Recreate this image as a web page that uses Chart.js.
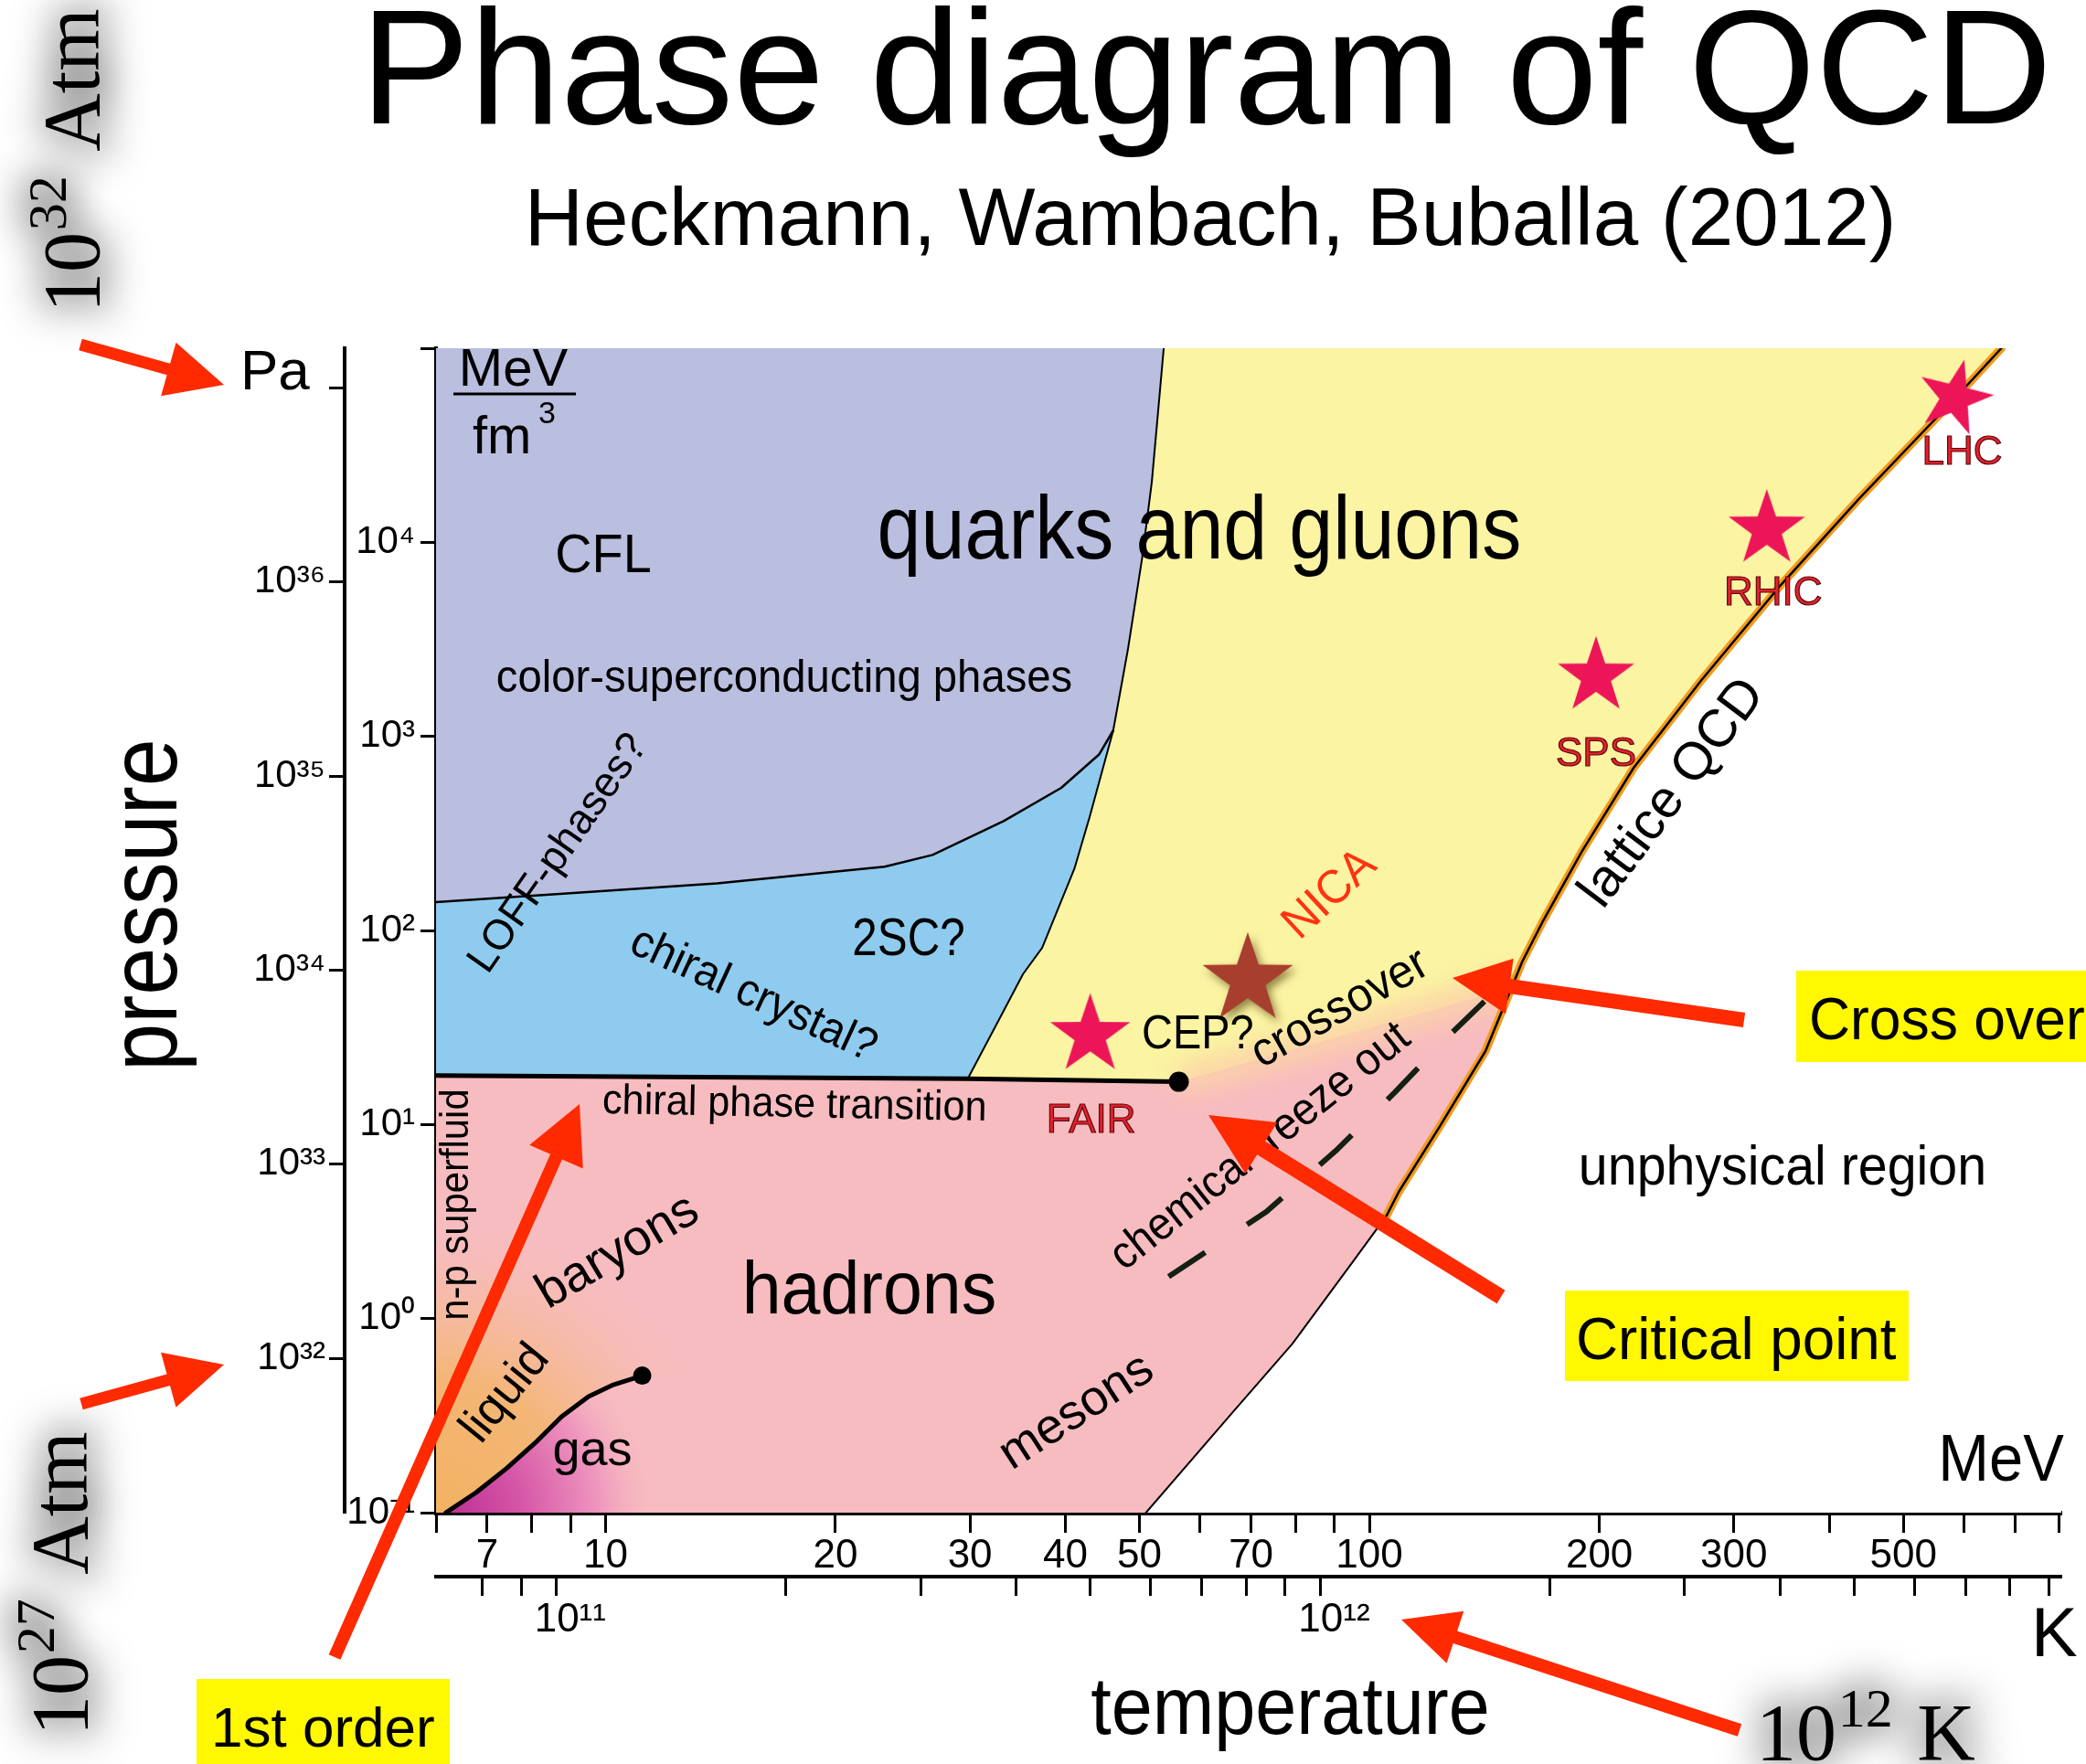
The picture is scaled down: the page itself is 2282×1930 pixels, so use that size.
<!DOCTYPE html>
<html>
<head>
<meta charset="utf-8">
<title>Phase diagram of QCD</title>
<script src="https://cdn.jsdelivr.net/npm/chart.js@4.4.1/dist/chart.umd.min.js"></script>
<style>
  html, body { margin: 0; padding: 0; background: #fff; }
  canvas { display: block; }
</style>
</head>
<body>
<canvas id="qcd" width="2282" height="1930"></canvas>
<script>
const SANS = '"Liberation Sans", Arial, Helvetica, sans-serif';
const SERIF = '"Liberation Serif", "Times New Roman", serif';
const KELVIN_PER_MEV = 1.16045e10;

// ---- axis ticks -------------------------------------------------------
const tempTicks = [6, 7, 8, 9, 10, 20, 30, 40, 50, 60, 70, 80, 90, 100, 200, 300, 400, 500, 600, 700, 800];
const tempLabels = [7, 10, 20, 30, 40, 50, 70, 100, 200, 300, 500];
const kelvinTicks = [8e10, 9e10, 1e11, 2e11, 3e11, 4e11, 5e11, 6e11, 7e11, 8e11, 9e11,
                     1e12, 2e12, 3e12, 4e12, 5e12, 6e12, 7e12, 8e12, 9e12];
// leading spaces keep the "10" centred on its tick, exponent hanging to the right
const kelvinLabels = { 1e11: '\u2002\u200910\u00B9\u00B9', 1e12: '\u2002\u200910\u00B9\u00B2' };
const energyTicks = [0.1, 1, 10, 100, 1000, 10000, 100000];
const energyLabels = ['10\u207B\u00B9', '10\u2070', '10\u00B9', '10\u00B2', '10\u00B3', '10\u2074', ''];
const pressureTicks = [1e32, 1e33, 1e34, 1e35, 1e36, 1e37];
const pressureLabels = ['10\u00B3\u00B2', '10\u00B3\u00B3', '10\u00B3\u2074', '10\u00B3\u2075', '10\u00B3\u2076', 'Pa '];

// ---- phase boundaries: temperature T [MeV], energy density E [MeV/fm^3] ----
// deconfinement boundary, from the top of the diagram down to the chiral line
const deconfT = [53.8, 51.9, 50.4, 48.3, 46.2, 43.05, 41.1, 37.3, 35.2, 33.0, 29.8];
const deconfE = [1e5, 20460, 8260, 2813, 1072, 387, 208, 81.5, 59.6, 36.8, 17.2];
// CFL / 2SC boundary (ends on deconfT[4])
const cscT = [6, 9.09, 14.0, 23.2, 26.8, 33.2, 39.5, 44.3, 46.2];
const cscE = [140, 156, 175, 213, 245, 366, 543, 809, 1072];
// first-order chiral transition, ending in the critical end point
const chiralT = [6, 29.8, 56.3];
const chiralE = [17.9, 17.2, 16.6];
// crossover from the CEP to the lattice curve
const crossT = [56.3, 153.6];
const crossE = [16.6, 50.9];
// lattice QCD curve, top to bottom
const latticeT = [672, 578, 439, 345.6, 272, 221.8, 189.8, 168.4, 158.5, 153.6, 141.9, 123.7, 109.3, 105.3];
const latticeE = [1e5, 52750, 17020, 6026, 1946, 689, 256, 110, 69, 50.9, 23.9, 9.81, 4.51, 3.39];
// hadron-gas edge below the lattice curve
const hadronT = [105.3, 95.2, 79.3, 66.0, 51.0];
const hadronE = [3.39, 1.97, 0.743, 0.324, 0.1];
// chemical freeze-out
const freezeT = [54.6, 73.3, 90.3, 107.9, 127.0, 155.1];
const freezeE = [1.644, 3.55, 7.30, 14.6, 28.6, 61.1];
// nuclear liquid-gas coexistence line
const lgT = [6.18, 6.77, 7.42, 8.14, 8.76, 9.50, 10.24, 11.17];
const lgE = [0.1, 0.127, 0.169, 0.234, 0.312, 0.396, 0.456, 0.508];
// critical points (QCD CEP, nuclear liquid-gas CP)
const critT = [56.3, 11.17];
const critE = [16.6, 0.508];
// heavy-ion experiments
const expNames = ['FAIR', 'SPS', 'RHIC', 'LHC'];
const expT = [43.1, 198.0, 331.3, 585.5];
const expE = [30.3, 2136, 12230, 57970];
const nicaT = [69.3];
const nicaE = [58.9];

// ---- helpers ---------------------------------------------------------
const P = (T, E) => T.map((t, i) => ({ x: t, y: E[i] }));
const rev = a => a.slice().reverse();

const T_MIN = 6, T_MAX = 805, E_MIN = 0.1, E_MAX = 1e5;

// closed regions built from the boundary arrays
const pinkPoly = [{ x: T_MIN, y: E_MIN }, ...P(chiralT, chiralE), ...P(crossT, crossE).slice(1),
  ...P(latticeT.slice(10), latticeE.slice(10)), ...P(hadronT, hadronE).slice(1)];
const yellowPoly = [...P(deconfT, deconfE), ...P(chiralT, chiralE).slice(2), ...P(crossT, crossE).slice(1),
  ...rev(P(latticeT.slice(0, 9), latticeE.slice(0, 9)))];
const purplePoly = [{ x: T_MIN, y: E_MAX }, ...P(deconfT.slice(0, 5), deconfE.slice(0, 5)),
  ...rev(P(cscT, cscE)).slice(1)];
const bluePoly = [...P(cscT, cscE), ...P(deconfT.slice(5), deconfE.slice(5)), { x: T_MIN, y: chiralE[0] }];
const liquidPoly = [{ x: T_MIN, y: E_MIN }, ...P(lgT, lgE), { x: 16, y: lgE[lgE.length - 1] }, { x: 16, y: 6 }, { x: T_MIN, y: 6 }];
const gasPoly = [...P(lgT, lgE), { x: 13, y: E_MIN }];
const unphysPoly = [...P(latticeT, latticeE), ...P(hadronT, hadronE).slice(1), { x: T_MAX, y: E_MIN }, { x: T_MAX, y: E_MAX }];

function liquidGlow(c) {
  const ch = c.chart;
  if (!ch.chartArea) return 'rgba(0,0,0,0)';
  const x0 = ch.scales.x.getPixelForValue(T_MIN), y0 = ch.scales.y.getPixelForValue(E_MIN);
  const g = ch.ctx.createRadialGradient(x0, y0, 0, x0, y0, 330);
  g.addColorStop(0, 'rgba(242,178,98,1)');
  g.addColorStop(0.45, 'rgba(244,182,118,1)');
  g.addColorStop(0.78, 'rgba(246,187,165,0.55)');
  g.addColorStop(1, 'rgba(247,189,192,0)');
  return g;
}
function gasGlow(c) {
  const ch = c.chart;
  if (!ch.chartArea) return 'rgba(0,0,0,0)';
  const x0 = ch.scales.x.getPixelForValue(lgT[0]), y0 = ch.scales.y.getPixelForValue(E_MIN);
  const g = ch.ctx.createRadialGradient(x0, y0, 0, x0, y0, 235);
  g.addColorStop(0, 'rgba(189,46,147,1)');
  g.addColorStop(0.35, 'rgba(213,86,166,1)');
  g.addColorStop(0.7, 'rgba(238,147,190,1)');
  g.addColorStop(1, 'rgba(247,189,192,0)');
  return g;
}

function starImage(R, color, shadow) {
  const pad = shadow ? 18 : 3;
  const size = Math.ceil(2 * R + 2 * pad);
  const c = document.createElement('canvas');
  c.width = c.height = size;
  const g = c.getContext('2d');
  g.translate(size / 2, size / 2 + 0.0955 * R);
  if (shadow) {
    g.shadowColor = 'rgba(80,60,10,0.6)';
    g.shadowBlur = 10; g.shadowOffsetX = 4; g.shadowOffsetY = 5;
  }
  g.beginPath();
  for (let k = 0; k < 10; k++) {
    const r = k % 2 ? R * 0.39 : R;
    const a = -Math.PI / 2 + k * Math.PI / 5;
    g.lineTo(r * Math.cos(a), r * Math.sin(a));
  }
  g.closePath();
  g.fillStyle = color;
  g.fill();
  return c;
}
const expStars = [46, 44, 44, 43].map(R => starImage(R, '#EC1558', false));
const expRot = [0, 0, 0, 14];
const nicaStar = starImage(52, '#A83F2E', true);

const fillSet = (data, color) => ({ data, showLine: true, fill: 'shape', backgroundColor: color,
  borderColor: 'rgba(0,0,0,0)', borderWidth: 0, pointRadius: 0, pointHoverRadius: 0 });
const lineSet = (data, color, width, extra = {}) => ({ data, showLine: true, fill: false,
  borderColor: color, borderWidth: width, backgroundColor: 'rgba(0,0,0,0)', pointRadius: 0,
  pointHoverRadius: 0, borderJoinStyle: 'round', borderCapStyle: 'round', ...extra });

// listed bottom layer first
const layers = [
  fillSet(pinkPoly, '#F7BCC0'),
  fillSet(yellowPoly, '#FBF4A2'),
  fillSet(purplePoly, '#BABFE0'),
  fillSet(bluePoly, '#8FCBEE'),
  fillSet(liquidPoly, liquidGlow),
  fillSet(gasPoly, gasGlow),
  lineSet(P(crossT, crossE), 'rgba(252,210,168,0.9)', 34, { blur: 12, borderCapStyle: 'butt' }),
  fillSet(unphysPoly, '#FFFFFF'),
  lineSet(P(cscT, cscE), '#000', 2.5),
  lineSet(P(deconfT, deconfE), '#000', 2),
  lineSet(P(chiralT, chiralE), '#000', 5),
  lineSet(P(freezeT, freezeE), '#142014', 6, { borderDash: [48, 55], borderCapStyle: 'butt' }),
  lineSet(P(latticeT, latticeE), '#F39A1E', 9),
  lineSet(P(latticeT, latticeE), '#000', 2.5),
  lineSet(P(hadronT, hadronE), '#000', 2),
  lineSet(P(lgT, lgE), '#000', 5),
  { data: P(critT, critE), showLine: false, pointRadius: [11, 10], pointBackgroundColor: '#000',
    pointBorderWidth: 0, pointHoverRadius: 0 },
  { data: P(expT, expE), showLine: false, pointRadius: 40, pointHoverRadius: 0,
    pointStyle: c => expStars[c.dataIndex], pointRotation: c => expRot[c.dataIndex] },
  { data: P(nicaT, nicaE), showLine: false, pointRadius: 40, pointHoverRadius: 0, pointStyle: () => nicaStar }
];
const datasets = layers.map((d, i) => ({ ...d, order: layers.length - i }));

// ---- text helpers -----------------------------------------------------
function txt(ctx, s, x, y, o) {
  ctx.save();
  ctx.translate(x, y);
  if (o.angle) ctx.rotate(o.angle * Math.PI / 180);
  if (o.sx && o.sx !== 1) ctx.scale(o.sx, 1);
  ctx.font = `${o.size}px ${o.family || SANS}`;
  ctx.textAlign = o.align || 'center';
  ctx.textBaseline = o.mid ? 'middle' : 'alphabetic';
  ctx.fillStyle = o.color || '#000';
  ctx.fillText(s, 0, 0);
  if (o.stroke) {
    ctx.lineWidth = o.strokeWidth || 1;
    ctx.strokeStyle = o.stroke;
    ctx.strokeText(s, 0, 0);
  }
  ctx.restore();
}

// "10^n unit" in a serif face with a soft grey halo
function serifPow(ctx, x, y, angle, base, exp, unit, size) {
  for (const pass of [0, 1]) {
    ctx.save();
    ctx.translate(x, y);
    ctx.rotate(angle * Math.PI / 180);
    ctx.textAlign = 'left';
    ctx.textBaseline = 'alphabetic';
    if (pass === 0) {
      ctx.filter = 'blur(20px)';
      ctx.fillStyle = 'rgba(0,0,0,0.22)';
      ctx.strokeStyle = 'rgba(0,0,0,0.22)';
      ctx.lineWidth = 30;
      ctx.lineJoin = 'round';
    } else {
      ctx.fillStyle = '#000';
    }
    const put = (s, px, py) => { if (pass === 0) ctx.strokeText(s, px, py); ctx.fillText(s, px, py); };
    ctx.font = `${size}px ${SERIF}`;
    put(base, 0, 0);
    let w = ctx.measureText(base).width + size * 0.02;
    ctx.font = `${Math.round(size * 0.68)}px ${SERIF}`;
    put(exp, w, -size * 0.41);
    w += ctx.measureText(exp).width + size * 0.3;
    ctx.font = `${size}px ${SERIF}`;
    put(unit, w, 0);
    ctx.restore();
  }
}

function arrow(ctx, x1, y1, x2, y2, w, hl, hw) {
  const a = Math.atan2(y2 - y1, x2 - x1), len = Math.hypot(x2 - x1, y2 - y1);
  ctx.save();
  ctx.translate(x1, y1);
  ctx.rotate(a);
  ctx.fillStyle = '#FF2A00';
  ctx.beginPath();
  ctx.moveTo(0, -w / 2);
  ctx.lineTo(len - hl, -w / 2);
  ctx.lineTo(len - hl, -hw / 2);
  ctx.lineTo(len, 0);
  ctx.lineTo(len - hl, hw / 2);
  ctx.lineTo(len - hl, w / 2);
  ctx.lineTo(0, w / 2);
  ctx.closePath();
  ctx.fill();
  ctx.restore();
}

const regionText = [
  { t: 'CFL', x: 660, y: 626, size: 60, sx: 0.93 },
  { t: 'quarks and gluons', x: 1312, y: 611, size: 98, sx: 0.88 },
  { t: 'color-superconducting phases', x: 858, y: 757, size: 50, sx: 0.945 },
  { t: 'LOFF-phases?', x: 611, y: 934, size: 46, angle: -55, mid: true },
  { t: 'chiral crystal?', x: 824, y: 1089, size: 50, sx: 0.95, angle: 24.6, mid: true },
  { t: '2SC?', x: 994, y: 1045, size: 58, sx: 0.85 },
  { t: 'CEP?', x: 1249, y: 1147, size: 51, sx: 0.92, align: 'left' },
  { t: 'crossover', x: 1466, y: 1104, size: 52, sx: 0.95, angle: -29.5, mid: true },
  { t: 'chemical freeze out', x: 1379, y: 1255, size: 50, sx: 0.93, angle: -38.5, mid: true },
  { t: 'chiral phase transition', x: 869, y: 1222, size: 46, sx: 0.94, angle: 1.1 },
  { t: 'n-p superfluid', x: 500, y: 1318, size: 44, sx: 0.95, angle: -90, mid: true },
  { t: 'baryons', x: 676, y: 1370, size: 55, angle: -30.6, mid: true },
  { t: 'hadrons', x: 951, y: 1437, size: 82, sx: 0.94 },
  { t: 'liquid', x: 553, y: 1525, size: 52, angle: -51, mid: true },
  { t: 'gas', x: 648, y: 1603, size: 54 },
  { t: 'mesons', x: 1178, y: 1545, size: 54, angle: -33, mid: true },
  { t: 'lattice QCD', x: 1830, y: 868, size: 58, angle: -53, mid: true },
  { t: 'unphysical region', x: 1950, y: 1296, size: 61, sx: 0.94 },
  { t: 'MeV', x: 2258, y: 1620, size: 72, sx: 0.93, align: 'right' }
];
const expLabelOffset = [[1, 99], [0, 90], [7, 75], [7, 65]];

const blurLayer = {
  id: 'blurLayer',
  beforeDatasetDraw(chart, args) {
    const ds = chart.data.datasets[args.index];
    if (ds.blur) { chart.ctx.save(); chart.ctx.filter = `blur(${ds.blur}px)`; }
  },
  afterDatasetDraw(chart, args) {
    const ds = chart.data.datasets[args.index];
    if (ds.blur) chart.ctx.restore();
  }
};

const decor = {
  id: 'decor',
  afterDatasetsDraw(chart) {
    const ctx = chart.ctx, sx = chart.scales.x, sy = chart.scales.y;
    for (const r of regionText) txt(ctx, r.t, r.x, r.y, r);

    // unit of the energy-density axis
    txt(ctx, 'MeV', 561.5, 422, { size: 58 });
    ctx.fillStyle = '#000';
    ctx.fillRect(496, 429.5, 134, 3);
    txt(ctx, 'fm', 517, 495.5, { size: 58, align: 'left' });
    txt(ctx, '3', 589, 463, { size: 34, align: 'left' });

    // experiment names under their stars
    expNames.forEach((n, i) => {
      const px = sx.getPixelForValue(expT[i]) + expLabelOffset[i][0];
      const py = sy.getPixelForValue(expE[i]) + expLabelOffset[i][1];
      txt(ctx, n, px, py, { size: 44, mid: true, color: '#E4202E', stroke: '#5a0a0a', strokeWidth: 1.2 });
    });
    const nx = sx.getPixelForValue(nicaT[0]) + 90, ny = sy.getPixelForValue(nicaE[0]) - 88;
    txt(ctx, 'NICA', nx, ny, { size: 52, sx: 0.95, angle: -42.8, mid: true, color: '#FF3311' });
  },
  afterDraw(chart) {
    const ctx = chart.ctx;
    txt(ctx, 'Phase diagram of QCD', 1319.5, 135, { size: 179 });
    txt(ctx, 'Heckmann, Wambach, Buballa (2012)', 1324, 268, { size: 89 });
    txt(ctx, 'K', 2222, 1812, { size: 76, align: 'left' });
    txt(ctx, 'temperature', 1411.5, 1897, { size: 89, sx: 0.91 });
    txt(ctx, 'pressure', 193, 990, { size: 105, sx: 0.89, angle: -90 });

    serifPow(ctx, 108, 342, -90, '10', '32', 'Atm', 88);
    serifPow(ctx, 95, 1899, -90, '10', '27', 'Atm', 88);
    serifPow(ctx, 1921, 1925, 0, '10', '12', 'K', 88);

    ctx.fillStyle = '#FFF800';
    ctx.fillRect(1965, 1062, 330, 100);
    ctx.fillRect(1712, 1412, 376, 99);
    ctx.fillRect(215, 1837, 277, 100);
    txt(ctx, 'Cross over', 1979, 1137, { size: 65, sx: 0.96, align: 'left' });
    txt(ctx, 'Critical point', 1724, 1487, { size: 65, sx: 0.98, align: 'left' });
    txt(ctx, '1st order', 231, 1911, { size: 62, align: 'left' });

    arrow(ctx, 88, 377, 245, 421, 13, 63, 61);
    arrow(ctx, 89, 1536, 245, 1493, 13, 63, 62);
    arrow(ctx, 366, 1813, 634, 1208, 14, 63, 64);
    arrow(ctx, 1642, 1419, 1322, 1220, 17, 68, 66);
    arrow(ctx, 1908, 1116, 1589, 1070, 16, 63, 61);
    arrow(ctx, 1903, 1893, 1533, 1772, 14, 62, 60);
  }
};

const tickFont = size => ({ family: SANS, size, lineHeight: 1 });
const axisGrid = len => ({ display: true, drawOnChartArea: false, drawTicks: true, tickLength: len, tickWidth: 3, tickColor: '#000' });

new Chart(document.getElementById('qcd'), {
  type: 'scatter',
  data: { datasets },
  options: {
    responsive: false,
    animation: false,
    devicePixelRatio: 1,
    events: [],
    layout: { autoPadding: false, padding: { left: 250, right: 27, top: 381, bottom: 110 } },
    plugins: { legend: { display: false }, tooltip: { enabled: false }, title: { display: false } },
    scales: {
      x: {
        type: 'logarithmic', position: 'bottom', min: T_MIN, max: T_MAX, weight: 0, z: 1,
        afterBuildTicks: s => { s.ticks = tempTicks.map(v => ({ value: v })); },
        afterFit: s => { s.height = 70; },
        border: { display: true, color: '#000', width: 5 },
        grid: axisGrid(22),
        ticks: { autoSkip: false, maxRotation: 0, minRotation: 0, padding: 4, color: '#000', font: tickFont(44),
          callback: v => (tempLabels.includes(v) ? String(v) : '') }
      },
      xK: {
        type: 'logarithmic', axis: 'x', position: 'bottom', weight: 1, z: 1,
        min: T_MIN * KELVIN_PER_MEV, max: T_MAX * KELVIN_PER_MEV,
        afterBuildTicks: s => { s.ticks = kelvinTicks.map(v => ({ value: v })); },
        afterFit: s => { s.height = 95; },
        border: { display: true, color: '#000', width: 4 },
        grid: axisGrid(21),
        ticks: { autoSkip: false, maxRotation: 0, minRotation: 0, padding: 5, color: '#000', font: tickFont(44),
          callback: v => kelvinLabels[v] || '' }
      },
      y: {
        type: 'logarithmic', position: 'left', min: E_MIN, max: E_MAX, weight: 0, z: 1,
        afterBuildTicks: s => { s.ticks = energyTicks.map(v => ({ value: v })); },
        afterFit: s => { s.width = 100; },
        border: { display: true, color: '#000', width: 4 },
        grid: axisGrid(17),
        ticks: { autoSkip: false, padding: 6, color: '#000', font: tickFont(42),
          callback: (v, i) => energyLabels[i] }
      },
      yP: {
        type: 'logarithmic', axis: 'y', position: 'left', weight: 1, z: 1,
        min: E_MIN * 1.602e32, max: E_MAX * 1.602e32,
        afterBuildTicks: s => { s.ticks = pressureTicks.map(v => ({ value: v })); },
        afterFit: s => { s.width = 127; },
        border: { display: true, color: '#000', width: 4 },
        grid: axisGrid(17),
        ticks: { autoSkip: false, padding: 4, color: '#000',
          font: c => (c.index === pressureTicks.length - 1 ? { family: SANS, size: 62, lineHeight: 0.5 } : tickFont(42)),
          callback: (v, i) => (i === pressureTicks.length - 1 ? [pressureLabels[i], ''] : pressureLabels[i]) }
      }
    }
  },
  plugins: [blurLayer, decor]
});
</script>
</body>
</html>
